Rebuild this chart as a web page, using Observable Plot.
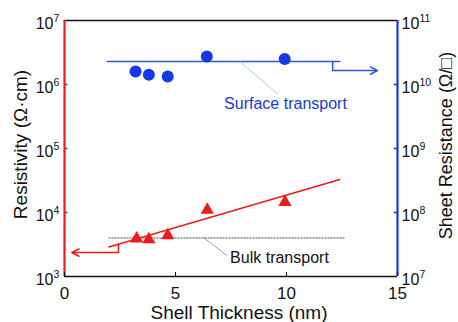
<!DOCTYPE html>
<html>
<head>
<meta charset="utf-8">
<script src="https://cdn.jsdelivr.net/npm/d3@7"></script>
<script src="https://cdn.jsdelivr.net/npm/@observablehq/plot@0.6"></script>
<style>
  body { margin: 0; background: #fff; }
  svg { font-family: "Liberation Sans", Arial, sans-serif; }
</style>
</head>
<body>
<div id="chart"></div>
<script>
// Bulk (left axis, resistivity in Ω·cm)
const bulkThickness = [3.25, 3.8, 4.65, 6.43, 9.93];
const resistivity = [3.9e3, 3.8e3, 4.4e3, 1.1e4, 1.45e4];
const bulkFitX = [2.0, 12.4];
const bulkFitY = [2.9e3, 3.28e4];
const bulkLevelX = [2.0, 12.6];
const bulkLevel = 4.0e3;

// Surface (right axis, sheet resistance in Ω/□)
const surfThickness = [3.2, 3.8, 4.65, 6.41, 9.92];
const sheetResistance = [1.6e10, 1.42e10, 1.33e10, 2.74e10, 2.5e10];
const surfLevelX = [1.93, 12.4];
const surfLevel = 2.29e10;

// Axis ticks
const xTicks = [0, 5, 10, 15];
const leftExponents = [3, 4, 5, 6, 7];
const rightExponents = [7, 8, 9, 10, 11];

const RIGHT_SHIFT = 1e4; // right decades 7..11 share the left 3..7 scale

const red = "#f01818";
const blue = "#1638e8";
const lineBlue = "#2a58d8";

const bulk = bulkThickness.map((x, i) => ({x, y: resistivity[i]}));
const surf = surfThickness.map((x, i) => ({x, y: sheetResistance[i] / RIGHT_SHIFT}));
const fitLine = bulkFitX.map((x, i) => ({x, y: bulkFitY[i]}));
const bulkDots = bulkLevelX.map(x => ({x, y: bulkLevel}));
const surfLine = surfLevelX.map(x => ({x, y: surfLevel / RIGHT_SHIFT}));

// annotation connectors (data units)
const bulkArrowPath = [{x: 2.43, y: 3.2e3}, {x: 2.43, y: 2.37e3}];
const bulkArrow = [{x1: 2.43, y1: 2.37e3, x2: 0.33, y2: 2.37e3}];
const surfStepPath = [{x: 12.08, y: surfLevel / RIGHT_SHIFT}, {x: 12.08, y: 1.65e10 / RIGHT_SHIFT}];
const surfArrow = [{x1: 12.08, y1: 1.65e10 / RIGHT_SHIFT, x2: 14.1, y2: 1.65e10 / RIGHT_SHIFT}];
const surfLeader = [{x: 7.9, y: 2.29e10 / RIGHT_SHIFT}, {x: 9.62, y: 7e9 / RIGHT_SHIFT}];
const bulkLeader = [{x: 6.29, y: 4.0e3}, {x: 7.31, y: 2.13e3}];

const chart = Plot.plot({
  width: 458,
  height: 322,
  marginLeft: 64,
  marginRight: 61,
  marginTop: 20,
  marginBottom: 46,
  style: {fontFamily: "Liberation Sans, Arial, sans-serif", background: "#fff"},
  x: {domain: [0, 15], axis: null},
  y: {type: "log", domain: [1e3, 1e7], axis: null},
  marks: [
    // frame
    Plot.ruleY([1e7], {stroke: "#111", strokeWidth: 1.6}),
    Plot.ruleY([1e3], {stroke: "#111", strokeWidth: 1.6}),
    Plot.ruleX([0], {stroke: red, strokeWidth: 2.2}),
    Plot.ruleX([15], {stroke: blue, strokeWidth: 2.2}),
    // x axis
    Plot.axisX({ticks: xTicks, tickSize: -4, tickPadding: 14, stroke: "#111", fontSize: 17, color: "#111", label: null, tickFormat: d => String(d)}),
    // inward ticks left / right
    Plot.ruleY(leftExponents.slice(1, -1), {y: e => 10 ** e, x1: 0, x2: 0.15, stroke: red, strokeWidth: 1.5}),
    Plot.ruleY(rightExponents.slice(1, -1), {y: e => 10 ** e / RIGHT_SHIFT, x1: 14.85, x2: 15, stroke: blue, strokeWidth: 1.5}),
    // tick labels
    Plot.text(leftExponents, {y: e => 10 ** e, frameAnchor: "left", text: () => "10", textAnchor: "end", dx: -11, dy: 3.5, fontSize: 16, fill: "#111"}),
    Plot.text(leftExponents, {y: e => 10 ** e, frameAnchor: "left", text: e => String(e), textAnchor: "start", dx: -11, dy: -2, fontSize: 10.5, fill: "#111"}),
    Plot.text(rightExponents, {y: e => 10 ** e / RIGHT_SHIFT, frameAnchor: "right", text: () => "10", textAnchor: "start", dx: 4, dy: 3.5, fontSize: 16, fill: "#111"}),
    Plot.text(rightExponents, {y: e => 10 ** e / RIGHT_SHIFT, frameAnchor: "right", text: e => String(e), textAnchor: "start", dx: 22, dy: -2, fontSize: 10.5, fill: "#111"}),
    // axis titles
    Plot.text(["Resistivity (Ω·cm)"], {frameAnchor: "left", rotate: -90, textAnchor: "middle", lineAnchor: "middle", dx: -44, dy: -4, fontSize: 19, fill: "#111"}),
    Plot.text(["Sheet Resistance (Ω/□)"], {frameAnchor: "right", rotate: -90, textAnchor: "middle", lineAnchor: "middle", dx: 49, dy: -3, fontSize: 18, fill: "#111"}),
    Plot.text(["Shell Thickness (nm)"], {frameAnchor: "bottom", textAnchor: "middle", lineAnchor: "middle", dx: 8, dy: 36, fontSize: 19, fill: "#111"}),
    // bulk
    Plot.line(bulkDots, {x: "x", y: "y", stroke: "#3a4a55", strokeWidth: 1, strokeDasharray: "1.2,1.8"}),
    Plot.line(fitLine, {x: "x", y: "y", stroke: red, strokeWidth: 1.5}),
    Plot.line(bulkArrowPath, {x: "x", y: "y", stroke: red, strokeWidth: 1.5}),
    Plot.arrow(bulkArrow, {x1: "x1", y1: "y1", x2: "x2", y2: "y2", stroke: red, strokeWidth: 1.5, headLength: 8, headAngle: 55}),
    Plot.line(bulkLeader, {x: "x", y: "y", stroke: "#777", strokeWidth: 0.7}),
    Plot.dot(bulk, {x: "x", y: "y", symbol: "triangle", r: 4.9, fill: red, stroke: "none"}),
    Plot.text(["Bulk transport"], {x: () => 7.46, y: () => 1.6e3, text: d => d, textAnchor: "start", lineAnchor: "bottom", fontSize: 16, fill: "#111"}),
    // surface
    Plot.line(surfLine, {x: "x", y: "y", stroke: lineBlue, strokeWidth: 1.5}),
    Plot.line(surfStepPath, {x: "x", y: "y", stroke: lineBlue, strokeWidth: 1.5}),
    Plot.arrow(surfArrow, {x1: "x1", y1: "y1", x2: "x2", y2: "y2", stroke: lineBlue, strokeWidth: 1.5, headLength: 8, headAngle: 55}),
    Plot.line(surfLeader, {x: "x", y: "y", stroke: "#8cc8ee", strokeWidth: 0.8}),
    Plot.dot(surf, {x: "x", y: "y", r: 6, fill: blue, stroke: "none"}),
    Plot.text(["Surface transport"], {x: () => 7.19, y: () => 4.2e9 / RIGHT_SHIFT, text: d => d, textAnchor: "start", lineAnchor: "bottom", fontSize: 16, fill: blue})
  ]
});

document.getElementById("chart").appendChild(chart);
</script>
</body>
</html>
